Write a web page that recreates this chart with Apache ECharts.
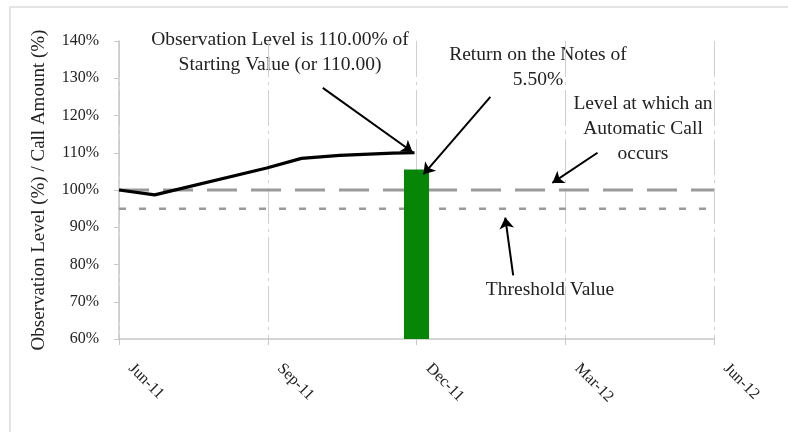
<!DOCTYPE html>
<html>
<head>
<meta charset="utf-8">
<script src="https://cdn.jsdelivr.net/npm/echarts@6/dist/echarts.min.js"></script>
<style>
  html, body { margin: 0; padding: 0; background: #fff; }
  #chart { width: 788px; height: 432px; }
</style>
</head>
<body>
<div id="chart"></div>
<script>
// x positions are months from Jun-11
var tickLabels = ['Jun-11', 'Sep-11', 'Dec-11', 'Mar-12', 'Jun-12'];
var levelMonths = [0, 0.72, 2.98, 3.68, 4.45, 5.52, 5.96];
var levelValues = [100, 98.7, 105.9, 108.5, 109.3, 109.9, 110];
var barMonth = 6;
var barValue = 105.5;
var callLevel = 100;
var thresholdLevel = 95;
var lineSpan = [0, 12];

// annotation arrows: [fromMonth, fromLevel, toMonth, toLevel]
var arrows = [
  [4.11, 127.4, 5.92, 110.2],
  [7.49, 125.0, 6.14, 104.2],
  [9.65, 110.0, 8.74, 101.9],
  [7.95, 77.1, 7.79, 92.6]
];

var chart = echarts.init(document.getElementById('chart'));
var font = '"Liberation Serif", "DejaVu Serif", serif';
var noteFont = '19.5px ' + font;

function pairs(xs, ys) {
  return xs.map(function (x, i) { return [x, ys[i]]; });
}
function flat(level) {
  return lineSpan.map(function (x) { return [x, level]; });
}
function note(x, y, text) {
  return {
    type: 'text', x: x, y: y, silent: true,
    style: { text: text, font: noteFont, fill: '#222', textAlign: 'center', textVerticalAlign: 'middle' }
  };
}

chart.setOption({
  animation: false,
  backgroundColor: '#fff',
  textStyle: { fontFamily: font },
  grid: { left: 119, right: 74, top: 41, bottom: 93 },
  xAxis: {
    type: 'value',
    min: 0,
    max: 12,
    interval: 3,
    axisLine: { show: true, lineStyle: { color: '#c8c8c8', width: 1.5 } },
    axisTick: { show: true, length: 6, lineStyle: { color: '#c8c8c8' } },
    axisLabel: {
      rotate: -45,
      margin: 15,
      padding: [0, 0, 0, 17],
      color: '#222',
      fontSize: 16,
      fontFamily: font,
      formatter: function (v) { return tickLabels[Math.round(v / 3)]; }
    },
    splitLine: {
      show: true,
      lineStyle: { color: '#cfcfcf', width: 1, type: [36, 5, 3, 5] }
    }
  },
  yAxis: {
    type: 'value',
    min: 60,
    max: 140,
    interval: 10,
    name: 'Observation Level (%) / Call Amount (%)',
    nameLocation: 'middle',
    nameGap: 70,
    nameTextStyle: { color: '#222', fontSize: 19, fontFamily: font },
    axisLine: { show: true, lineStyle: { color: '#c8c8c8', width: 1.5 } },
    axisTick: { show: true, length: 5, lineStyle: { color: '#c8c8c8' } },
    axisLabel: {
      margin: 20,
      color: '#222',
      fontSize: 16,
      fontFamily: font,
      formatter: '{value}%'
    },
    splitLine: { show: false }
  },
  series: [
    {
      name: 'Call Level',
      type: 'line',
      data: flat(callLevel),
      symbol: 'none',
      lineStyle: { color: '#9a9a9a', width: 3, type: [30, 14] },
      z: 2
    },
    {
      name: 'Threshold',
      type: 'line',
      data: flat(thresholdLevel),
      symbol: 'none',
      lineStyle: { color: '#9a9a9a', width: 2.5, type: [7, 13] },
      z: 2
    },
    {
      name: 'Return',
      type: 'bar',
      data: [[barMonth, barValue]],
      barWidth: 25,
      itemStyle: { color: '#068506' },
      z: 3
    },
    {
      name: 'Observation Level',
      type: 'line',
      data: pairs(levelMonths, levelValues),
      symbol: 'none',
      lineStyle: { color: '#000', width: 3.2 },
      z: 4,
      markLine: {
        silent: true,
        symbol: ['none', 'arrow'],
        symbolSize: 11,
        label: { show: false },
        lineStyle: { color: '#000', width: 2, type: 'solid' },
        data: arrows.map(function (a) {
          return [{ coord: [a[0], a[1]] }, { coord: [a[2], a[3]] }];
        })
      }
    }
  ],
  graphic: [
    {
      type: 'rect',
      shape: { x: 10, y: 7, width: 800, height: 500 },
      style: { fill: 'none', stroke: '#dcdcdc', lineWidth: 1.5 },
      silent: true
    },
    note(280, 40, 'Observation Level is 110.00% of'),
    note(280, 65, 'Starting Value (or 110.00)'),
    note(538, 55, 'Return on the Notes of'),
    note(538, 80, '5.50%'),
    note(643, 104, 'Level at which an'),
    note(643, 129, 'Automatic Call'),
    note(643, 154, 'occurs'),
    note(550, 290, 'Threshold Value')
  ]
});
</script>
</body>
</html>
